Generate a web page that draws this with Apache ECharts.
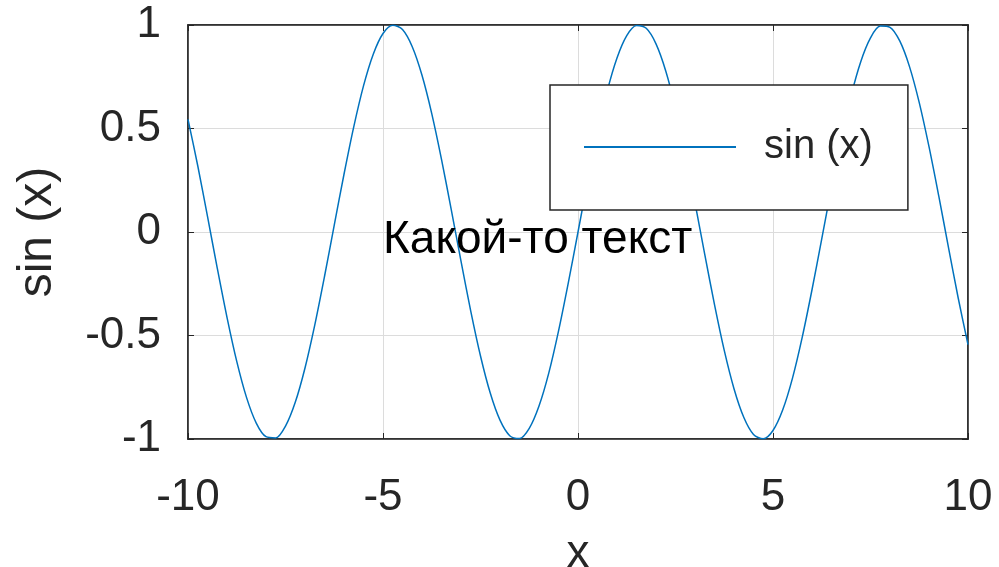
<!DOCTYPE html>
<html>
<head>
<meta charset="utf-8">
<script src="https://cdn.jsdelivr.net/npm/echarts@6/dist/echarts.min.js"></script>
<style>
  html, body { margin: 0; padding: 0; background: #fff; }
  #main { width: 999px; height: 567px; }
</style>
</head>
<body>
<div id="main"></div>
<script>
// x 取值 (-10 .. 10)
var xs = [-10, -9.75, -9.5, -9.25, -9, -8.75, -8.5, -8.25, -8, -7.75, -7.5, -7.25, -7, -6.75, -6.5, -6.25,
  -6, -5.75, -5.5, -5.25, -5, -4.75, -4.5, -4.25, -4, -3.75, -3.5, -3.25, -3, -2.75, -2.5, -2.25,
  -2, -1.75, -1.5, -1.25, -1, -0.75, -0.5, -0.25, 0, 0.25, 0.5, 0.75, 1, 1.25, 1.5, 1.75,
  2, 2.25, 2.5, 2.75, 3, 3.25, 3.5, 3.75, 4, 4.25, 4.5, 4.75, 5, 5.25, 5.5, 5.75,
  6, 6.25, 6.5, 6.75, 7, 7.25, 7.5, 7.75, 8, 8.25, 8.5, 8.75, 9, 9.25, 9.5, 9.75, 10];
// sin (x) 曲线的读数
var ys = [0.544, 0.320, 0.075, -0.174, -0.412, -0.625, -0.799, -0.923, -0.989, -0.995, -0.938, -0.823, -0.657, -0.450, -0.215, 0.033,
  0.279, 0.508, 0.706, 0.859, 0.959, 0.999, 0.978, 0.895, 0.757, 0.572, 0.351, 0.108, -0.141, -0.382, -0.599, -0.778,
  -0.909, -0.984, -0.998, -0.949, -0.841, -0.682, -0.479, -0.247, 0, 0.247, 0.479, 0.682, 0.841, 0.949, 0.998, 0.984,
  0.909, 0.778, 0.599, 0.382, 0.141, -0.108, -0.351, -0.572, -0.757, -0.895, -0.978, -0.999, -0.959, -0.859, -0.706, -0.508,
  -0.279, -0.033, 0.215, 0.450, 0.657, 0.823, 0.938, 0.995, 0.989, 0.923, 0.799, 0.625, 0.412, 0.174, -0.075, -0.320, -0.544];
var seriesName = 'sin (x)';
var noteText = 'Какой-то текст';
var notePos = [-5, 0];

var font = 'Liberation Sans, Arial, sans-serif';
var ink = '#262626';

var lineData = [];
for (var i = 0; i < xs.length; i++) {
    lineData.push([xs[i], ys[i]]);
}

var option = {
    backgroundColor: '#fff',
    animation: false,
    textStyle: { fontFamily: font, color: ink },
    grid: {
        left: 188, right: 31, top: 25, bottom: 128,
        outerBoundsMode: 'none',
        containLabel: false,
        show: true, borderColor: ink, borderWidth: 1.5
    },
    legend: {
        left: 550, top: 85,
        padding: [42, 35, 43, 33],
        borderColor: ink, borderWidth: 1.5,
        backgroundColor: '#fff',
        itemWidth: 152, itemHeight: 40,
        itemStyle: { opacity: 0 },
        textStyle: { fontSize: 40, color: ink, fontFamily: font, padding: [0, 0, 0, 23] },
        data: [seriesName]
    },
    xAxis: [{
        type: 'value', min: -10, max: 10, interval: 5,
        name: 'x', nameLocation: 'middle', nameGap: 92,
        nameTextStyle: { fontSize: 46, color: ink, fontFamily: font },
        axisLine: { show: true, onZero: false, lineStyle: { color: ink, width: 1.5 } },
        axisTick: { show: true, inside: true, length: 6, lineStyle: { color: ink } },
        axisLabel: { fontSize: 44, color: ink, margin: 37, fontFamily: font },
        splitLine: { show: true, lineStyle: { color: '#dcdcdc', width: 1 } }
    }, {
        type: 'value', min: -10, max: 10, interval: 5, position: 'top',
        axisLine: { show: true, onZero: false, lineStyle: { color: ink, width: 1.5 } },
        axisTick: { show: true, inside: true, length: 6, lineStyle: { color: ink } },
        axisLabel: { show: false },
        splitLine: { show: false }
    }],
    yAxis: [{
        type: 'value', min: -1, max: 1, interval: 0.5,
        name: seriesName, nameLocation: 'middle', nameGap: 126,
        nameTextStyle: { fontSize: 48, color: ink, fontFamily: font },
        axisLine: { show: true, onZero: false, lineStyle: { color: ink, width: 1.5 } },
        axisTick: { show: true, inside: true, length: 6, lineStyle: { color: ink } },
        axisLabel: { fontSize: 44, color: ink, margin: 27, fontFamily: font },
        splitLine: { show: true, lineStyle: { color: '#dcdcdc', width: 1 } }
    }, {
        type: 'value', min: -1, max: 1, interval: 0.5, position: 'right',
        axisLine: { show: true, onZero: false, lineStyle: { color: ink, width: 1.5 } },
        axisTick: { show: true, inside: true, length: 6, lineStyle: { color: ink } },
        axisLabel: { show: false },
        splitLine: { show: false }
    }],
    series: [{
        name: seriesName,
        type: 'line',
        data: lineData,
        smooth: 0.3,
        showSymbol: false,
        symbol: 'none',
        color: '#0072BD',
        lineStyle: { color: '#0072BD', width: 1.5 },
        z: 3,
        markPoint: {
            symbol: 'circle', symbolSize: 0,
            label: {
                show: true, position: 'right', distance: 0, offset: [0, 8],
                formatter: noteText,
                fontSize: 46, color: '#000', fontFamily: font
            },
            data: [{ coord: notePos }]
        }
    }]
};

var chart = echarts.init(document.getElementById('main'));
chart.setOption(option);
</script>
</body>
</html>
